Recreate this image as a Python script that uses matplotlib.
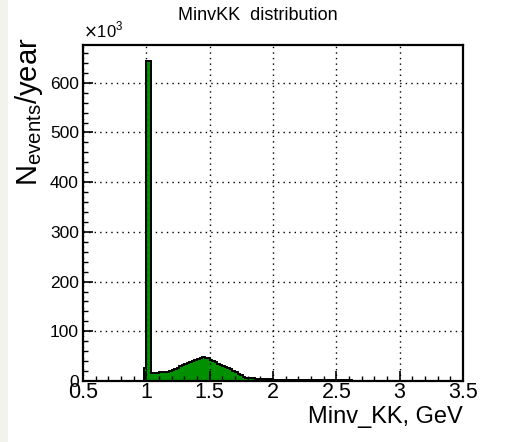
import numpy as np
import matplotlib
matplotlib.use("Agg")
import matplotlib.pyplot as plt
from matplotlib.ticker import MultipleLocator, FixedLocator
from matplotlib.patches import Rectangle

# ---- data (events/year in units of 10^3), bins of 0.02 GeV ----
bin_lo = 0.98
bin_width = 0.02
counts = [
    27, 644, 644,
    16, 16, 17, 18, 19, 19, 19, 20,
    22, 24, 27, 30, 33, 35, 37, 39, 41, 43, 45, 46, 48,
    47, 46, 43, 41, 38, 35, 33, 31, 29, 27, 24, 21, 18, 15, 12, 9, 7,
    6, 6, 6, 5, 5, 5, 5, 5, 5, 5,
    3, 3, 3, 3, 3, 2, 2, 2, 2, 2, 2, 2, 2, 2, 2, 2, 2, 2, 2, 2,
    2, 2, 2, 1.5, 1.5, 1.5, 1.5, 1.5, 1.5, 1.5, 1.5, 1, 1, 1, 1, 1, 1, 1, 1, 1, 1, 1,
]
edges = bin_lo + bin_width * np.arange(len(counts) + 1)

title = "MinvKK  distribution"
xlabel = "Minv_KK, GeV"
ylabel = r"N$_{\mathregular{events}}$/year"
xticks = [0.5, 1, 1.5, 2, 2.5, 3, 3.5]
xticklabels = ["0.5", "1", "1.5", "2", "2.5", "3", "3.5"]
yticks = [0, 100, 200, 300, 400, 500, 600]

plt.rcParams['font.family'] = ['Liberation Sans', 'DejaVu Sans']

W, H = 505, 442
fig = plt.figure(figsize=(W / 100, H / 100), dpi=100)
fig.patch.set_facecolor('white')
fig.add_artist(Rectangle((0, 0), 8 / W, 1, transform=fig.transFigure,
                         facecolor='#f3f3ee', edgecolor='none', zorder=0))

ax = fig.add_axes([83 / W, 1 - 381 / H, 380 / W, 336 / H])

ax.stairs(counts, edges, fill=True, color='#009000', zorder=1)
ax.stairs(counts, edges, fill=False, color='black', linewidth=1.4, zorder=1.5)

ax.set_xlim(0.5, 3.5)
ax.set_ylim(0, 676)

ax.xaxis.set_major_locator(FixedLocator(xticks))
ax.set_xticklabels(xticklabels)
ax.xaxis.set_minor_locator(MultipleLocator(0.1))
ax.yaxis.set_major_locator(FixedLocator(yticks))
ax.set_yticklabels([str(v) for v in yticks])
ax.yaxis.set_minor_locator(MultipleLocator(20))

ax.tick_params(axis='both', which='both', direction='in', top=False, right=False,
               color='black')
ax.tick_params(axis='both', which='major', length=7, width=1.2)
ax.tick_params(axis='both', which='minor', length=3.5, width=1.0)
ax.tick_params(axis='x', which='major', labelsize=15.5, pad=1)
ax.tick_params(axis='y', which='major', labelsize=12.5, pad=3)

ax.grid(True, which='major', linestyle=(0, (1, 3)), color='black', linewidth=1.0)
ax.set_axisbelow(False)

for s in ax.spines.values():
    s.set_linewidth(1.6)

fig.text(258 / W, 1 - 16 / H, title, fontsize=13, ha='center', va='center')
ax.set_xlabel(xlabel, fontsize=17, loc='right', labelpad=2)
fig.text(29 / W, 1 - 38 / H, ylabel, fontsize=21, rotation=90,
         ha='center', va='top')

ax.text(0.0, 1.015, r"$\times$10$^{\mathregular{3}}$", transform=ax.transAxes,
        fontsize=12, ha='left', va='bottom')

fig.savefig('out.png', dpi=100)
